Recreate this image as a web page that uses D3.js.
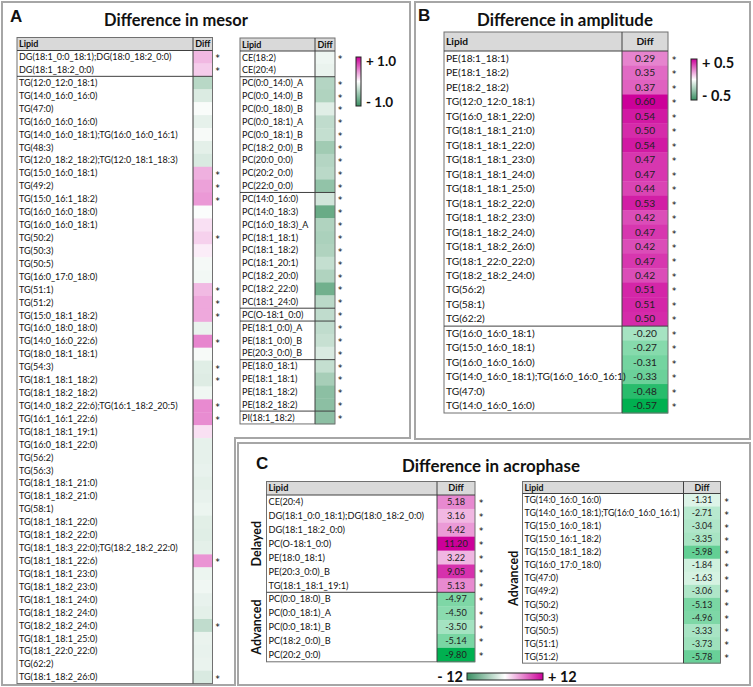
<!DOCTYPE html>
<html><head><meta charset="utf-8">
<script src="https://cdn.jsdelivr.net/npm/d3@7"></script>
<style>
body{margin:0;background:#fff}
svg{display:block}
text{font-family:Lato,"Open Sans",sans-serif;fill:#111}
</style>
</head><body>
<svg id="chart" width="753" height="687"></svg>
<script>
// ---------- DATA ----------
const mesorLeftLipids = ["DG(18:1_0:0_18:1);DG(18:0_18:2_0:0)","DG(18:1_18:2_0:0)",
"TG(12:0_12:0_18:1)","TG(14:0_16:0_16:0)","TG(47:0)","TG(16:0_16:0_16:0)","TG(14:0_16:0_18:1);TG(16:0_16:0_16:1)",
"TG(48:3)","TG(12:0_18:2_18:2);TG(12:0_18:1_18:3)","TG(15:0_16:0_18:1)","TG(49:2)","TG(15:0_16:1_18:2)",
"TG(16:0_16:0_18:0)","TG(16:0_16:0_18:1)","TG(50:2)","TG(50:3)","TG(50:5)","TG(16:0_17:0_18:0)","TG(51:1)",
"TG(51:2)","TG(15:0_18:1_18:2)","TG(16:0_18:0_18:0)","TG(14:0_16:0_22:6)","TG(18:0_18:1_18:1)","TG(54:3)",
"TG(18:1_18:1_18:2)","TG(18:1_18:2_18:2)","TG(14:0_18:2_22:6);TG(16:1_18:2_20:5)","TG(16:1_16:1_22:6)",
"TG(18:1_18:1_19:1)","TG(16:0_18:1_22:0)","TG(56:2)","TG(56:3)","TG(18:1_18:1_21:0)","TG(18:1_18:2_21:0)",
"TG(58:1)","TG(18:1_18:1_22:0)","TG(18:1_18:2_22:0)","TG(18:1_18:3_22:0);TG(18:2_18:2_22:0)","TG(18:1_18:1_22:6)",
"TG(18:1_18:1_23:0)","TG(18:1_18:2_23:0)","TG(18:1_18:1_24:0)","TG(18:1_18:2_24:0)","TG(18:2_18:2_24:0)",
"TG(18:1_18:1_25:0)","TG(18:1_22:0_22:0)","TG(62:2)","TG(18:1_18:2_26:0)"];
const mesorLeftValues = [0.28,0.2,-0.34,-0.17,-0.03,-0.12,-0.04,-0.13,-0.18,0.31,0.37,0.4,-0.02,0.12,0.18,0.07,
-0.05,-0.06,0.27,0.34,0.34,-0.1,0.48,-0.04,-0.15,-0.16,-0.07,0.46,0.45,0.12,-0.12,-0.12,-0.11,-0.13,-0.11,
-0.09,-0.14,-0.15,-0.13,0.42,-0.09,-0.07,-0.11,-0.13,-0.3,-0.1,-0.11,-0.1,-0.18];
const mesorLeftSig = ["*","*","","","","","","","","*","*","*","","","*","","","","*","*","*","","*","","*","*","",
"*","*","","","","","","","","","","","*","","","","","*","","","","*"];
const mesorLeftBreaks = [2];

const mesorRightLipids = ["CE(18:2)","CE(20:4)","PC(0:0_14:0)_A","PC(0:0_14:0)_B","PC(0:0_18:0)_B","PC(0:0_18:1)_A",
"PC(0:0_18:1)_B","PC(18:2_0:0)_B","PC(20:0_0:0)","PC(20:2_0:0)","PC(22:0_0:0)","PC(14:0_16:0)","PC(14:0_18:3)",
"PC(16:0_18:3)_A","PC(18:1_18:1)","PC(18:1_18:2)","PC(18:1_20:1)","PC(18:2_20:0)","PC(18:2_22:0)","PC(18:1_24:0)",
"PC(O-18:1_0:0)","PE(18:1_0:0)_A","PE(18:1_0:0)_B","PE(20:3_0:0)_B","PE(18:0_18:1)","PE(18:1_18:1)",
"PE(18:1_18:2)","PE(18:2_18:2)","PI(18:1_18:2)"];
const mesorRightValues = [-0.08,-0.1,-0.36,-0.38,-0.15,-0.3,-0.28,-0.45,-0.36,-0.33,-0.52,-0.22,-0.72,-0.38,
-0.4,-0.38,-0.28,-0.38,-0.68,-0.33,-0.3,-0.3,-0.27,-0.18,-0.28,-0.42,-0.55,-0.55,-0.55];
const mesorRightSig = ["*","","*","*","*","*","*","*","*","*","*","*","*","*","*","*","*","*","*","*","*","*","*",
"*","*","*","*","*","*"];
const mesorRightBreaks = [2,11,20,21,24,28];

const ampLipids = ["PE(18:1_18:1)","PE(18:1_18:2)","PE(18:2_18:2)","TG(12:0_12:0_18:1)","TG(16:0_18:1_22:0)",
"TG(18:1_18:1_21:0)","TG(18:1_18:1_22:0)","TG(18:1_18:1_23:0)","TG(18:1_18:1_24:0)","TG(18:1_18:1_25:0)",
"TG(18:1_18:2_22:0)","TG(18:1_18:2_23:0)","TG(18:1_18:2_24:0)","TG(18:1_18:2_26:0)","TG(18:1_22:0_22:0)",
"TG(18:2_18:2_24:0)","TG(56:2)","TG(58:1)","TG(62:2)","TG(16:0_16:0_18:1)","TG(15:0_16:0_18:1)",
"TG(16:0_16:0_16:0)","TG(14:0_16:0_18:1);TG(16:0_16:0_16:1)","TG(47:0)","TG(14:0_16:0_16:0)"];
const ampValues = [0.29,0.35,0.37,0.60,0.54,0.50,0.54,0.47,0.47,0.44,0.53,0.42,0.47,0.42,0.47,0.42,0.51,0.51,0.50,
-0.20,-0.27,-0.31,-0.33,-0.48,-0.57];
const ampSig = ampValues.map(() => "*");
const ampBreaks = [19];

const acroLeftLipids = ["CE(20:4)","DG(18:1_0:0_18:1);DG(18:0_18:2_0:0)","DG(18:1_18:2_0:0)","PC(O-18:1_0:0)",
"PE(18:0_18:1)","PE(20:3_0:0)_B","TG(18:1_18:1_19:1)","PC(0:0_18:0)_B","PC(0:0_18:1)_A","PC(0:0_18:1)_B",
"PC(18:2_0:0)_B","PC(20:2_0:0)"];
const acroLeftValues = [5.18,3.16,4.42,11.20,3.22,9.05,5.13,-4.97,-4.50,-3.50,-5.14,-9.80];
const acroLeftSig = acroLeftValues.map(() => "*");
const acroLeftBreaks = [7];
const acroLeftGroups = [{label:"Delayed", from:0, to:7},{label:"Advanced", from:7, to:12}];

const acroRightLipids = ["TG(14:0_16:0_16:0)","TG(14:0_16:0_18:1);TG(16:0_16:0_16:1)","TG(15:0_16:0_18:1)",
"TG(15:0_16:1_18:2)","TG(15:0_18:1_18:2)","TG(16:0_17:0_18:0)","TG(47:0)","TG(49:2)","TG(50:2)","TG(50:3)",
"TG(50:5)","TG(51:1)","TG(51:2)"];
const acroRightValues = [-1.31,-2.71,-3.04,-3.35,-5.98,-1.84,-1.63,-3.06,-5.13,-4.96,-3.33,-3.73,-5.78];
const acroRightSig = acroRightValues.map(() => "*");
const acroRightGroups = [{label:"Advanced", from:0, to:13}];

const titles = ["Difference in mesor","Difference in amplitude","Difference in acrophase"];
const panelLetters = ["A","B","C"];
const mesorLegendLabels = ["+ 1.0","- 1.0"];
const ampLegendLabels = ["+ 0.5","- 0.5"];
const acroLegendLabels = ["- 12","+ 12"];

// ---------- STYLE ----------
const MAG = "#cc0099", GRN = "#00b050", GRN_A = "#2e8b57", LEG_G = "#3a9063";
const svg = d3.select("#chart");

// panel frames
const frame = svg.append("g").attr("fill","none").attr("stroke","#a6a6a6").attr("stroke-width",2);
frame.append("path").attr("d","M2,2H410V438H235V685H2Z");
frame.append("rect").attr("x",415).attr("y",2).attr("width",335).attr("height",437);
frame.append("rect").attr("x",238).attr("y",443).attr("width",512).attr("height",242);

// titles & letters
function fitText(sel, target){
  const fs = 16; sel.attr("font-size",fs);
  const w = sel.node().getComputedTextLength();
  sel.attr("font-size", fs*target/w);
}
const titlePos = [[176,26,144],[565,26,176],[491,472,178]];
titles.forEach((t,i)=>{
  const s = svg.append("text").attr("x",titlePos[i][0]).attr("y",titlePos[i][1])
    .attr("text-anchor","middle").attr("font-weight","bold").text(t);
  fitText(s,titlePos[i][2]);
});
const letterPos = [[10,22],[418,21],[256,469]];
panelLetters.forEach((t,i)=>svg.append("text").attr("x",letterPos[i][0]).attr("y",letterPos[i][1])
  .attr("font-weight","bold").attr("font-size",17)
  .style("font-family","'Liberation Sans',Arial,sans-serif").text(t));

// ---------- TABLE ----------
function table(o){
  const g = svg.append("g");
  const n = o.lipids.length;
  const top = o.y0 + o.headH;
  const y = d3.scaleBand().domain(d3.range(n)).range([top, top + n*o.rowH]);
  const xd = o.x + o.lipidW;
  const bottom = top + n*o.rowH;
  // header
  g.append("rect").attr("x",o.x).attr("y",o.y0).attr("width",o.lipidW+o.diffW).attr("height",o.headH)
    .attr("fill","#d9d9d9");
  g.append("text").attr("x",o.x+2).attr("y",o.y0+o.headH/2).attr("dy","0.35em")
    .attr("font-size",o.fs).attr("font-weight","bold").text("Lipid");
  g.append("text").attr("x",xd+o.diffW/2).attr("y",o.y0+o.headH/2).attr("dy","0.35em")
    .attr("text-anchor","middle").attr("font-size",o.fs).attr("font-weight","bold").text("Diff");
  // cells
  g.selectAll("rect.cell").data(o.values).join("rect").attr("class","cell")
    .attr("x",xd).attr("y",(d,i)=>y(i)).attr("width",o.diffW).attr("height",y.bandwidth()+0.4)
    .attr("fill",d=>o.color(d));
  g.selectAll("text.lip").data(o.lipids).join("text").attr("class","lip")
    .attr("x",o.x+2).attr("y",(d,i)=>y(i)+y.bandwidth()/2).attr("dy","0.35em")
    .attr("font-size",o.fs).text(d=>d);
  if(o.showVals){
    g.selectAll("text.val").data(o.values).join("text").attr("class","val")
      .attr("x",xd+o.diffW/2).attr("y",(d,i)=>y(i)+y.bandwidth()/2).attr("dy","0.35em")
      .attr("text-anchor","middle").attr("font-size",o.fs).style("fill","#222").text(d=>d.toFixed(2));
  }
  g.selectAll("text.sig").data(o.sig).join("text").attr("class","sig")
    .attr("x",xd+o.diffW+o.starDx).attr("y",(d,i)=>y(i)+y.bandwidth()/2+4.5)
    .attr("font-size",8.5).style("font-family","'DejaVu Sans',sans-serif").style("fill","#000").text(d=>d);
  // lines
  const ln = g.append("g").attr("stroke","#404040").attr("stroke-width",1).attr("fill","none");
  ln.append("rect").attr("x",o.x).attr("y",o.y0).attr("width",o.lipidW+o.diffW).attr("height",bottom-o.y0)
    .attr("stroke","#707070");
  ln.append("line").attr("x1",xd).attr("x2",xd).attr("y1",o.y0).attr("y2",bottom);
  ln.append("line").attr("x1",o.x).attr("x2",xd+o.diffW).attr("y1",top).attr("y2",top);
  (o.breaks||[]).forEach(b=>ln.append("line").attr("x1",o.x).attr("x2",xd+o.diffW)
    .attr("y1",y(b)).attr("y2",y(b)));
  (o.groups||[]).forEach(gr=>{
    const cy = (y(gr.from) + (gr.to<n ? y(gr.to) : bottom))/2;
    g.append("text").attr("transform",`translate(${o.groupX},${cy}) rotate(-90)`)
      .attr("text-anchor","middle").attr("dy","0.35em").attr("font-size",12.5).attr("font-weight","bold")
      .text(gr.label);
  });
  return g;
}

// ---------- PANEL A ----------
const colorA = d3.scaleLinear().domain([-1,0,1]).range([GRN_A,"#ffffff",MAG]).clamp(true);
table({x:17,lipidW:176,diffW:19.5,y0:37.5,headH:13,rowH:12.92,lipids:mesorLeftLipids,values:mesorLeftValues,
  sig:mesorLeftSig,breaks:mesorLeftBreaks,color:colorA,showVals:false,fs:9,starDx:3});
table({x:240,lipidW:75,diffW:20,y0:38,headH:13,rowH:12.86,lipids:mesorRightLipids,values:mesorRightValues,
  sig:mesorRightSig,breaks:mesorRightBreaks,color:colorA,showVals:false,fs:9,starDx:3});

// ---------- PANEL B ----------
const colorB = d3.scaleLinear().domain([d3.min(ampValues),0,d3.max(ampValues)]).range([GRN,"#ffffff",MAG]);
table({x:444,lipidW:178,diffW:46,y0:32,headH:19,rowH:14.48,lipids:ampLipids,values:ampValues,sig:ampSig,
  breaks:ampBreaks,color:colorB,showVals:true,fs:10.2,starDx:4});

// ---------- PANEL C ----------
const allAcro = acroLeftValues.concat(acroRightValues);
const colorC = d3.scaleLinear().domain([d3.min(allAcro),0,d3.max(allAcro)]).range([GRN,"#ffffff",MAG]);
table({x:266.5,lipidW:170.5,diffW:38,y0:481.5,headH:13.5,rowH:13.9,lipids:acroLeftLipids,values:acroLeftValues,
  sig:acroLeftSig,breaks:acroLeftBreaks,groups:acroLeftGroups,groupX:257,color:colorC,showVals:true,fs:9.2,starDx:4});
table({x:522.5,lipidW:161,diffW:37,y0:481.5,headH:12,rowH:13.05,lipids:acroRightLipids,values:acroRightValues,
  sig:acroRightSig,groups:acroRightGroups,groupX:513.5,color:colorC,showVals:true,fs:8.8,starDx:4});

// ---------- LEGENDS ----------
const defs = svg.append("defs");
function grad(id, vertical){
  const lg = defs.append("linearGradient").attr("id",id)
    .attr("x1",0).attr("y1",0).attr("x2",vertical?0:1).attr("y2",vertical?1:0);
  const stops = vertical ? [MAG,"#ffffff",LEG_G] : [LEG_G,"#ffffff",MAG];
  stops.forEach((c,i)=>lg.append("stop").attr("offset",i/2).attr("stop-color",c));
}
grad("gv",true); grad("gh",false);
function vLegend(x,y,w,h,labels,fs){
  svg.append("rect").attr("x",x).attr("y",y).attr("width",w).attr("height",h).attr("fill","url(#gv)")
    .attr("stroke","#222").attr("stroke-width",1);
  svg.append("text").attr("x",x+w+5).attr("y",y+4).attr("dy","0.35em").attr("font-size",fs)
    .attr("font-weight","bold").text(labels[0]);
  svg.append("text").attr("x",x+w+5).attr("y",y+h-4).attr("dy","0.35em").attr("font-size",fs)
    .attr("font-weight","bold").text(labels[1]);
}
vLegend(356,57,5,49,mesorLegendLabels,13.5);
vLegend(691,59,6,41,ampLegendLabels,14.5);
svg.append("rect").attr("x",467).attr("y",673).attr("width",76).attr("height",7).attr("fill","url(#gh)")
  .attr("stroke","#222").attr("stroke-width",1);
svg.append("text").attr("x",463).attr("y",676.5).attr("dy","0.35em").attr("text-anchor","end")
  .attr("font-size",14.5).attr("font-weight","bold").text(acroLegendLabels[0]);
svg.append("text").attr("x",548).attr("y",676.5).attr("dy","0.35em")
  .attr("font-size",14.5).attr("font-weight","bold").text(acroLegendLabels[1]);
</script>
</body></html>
